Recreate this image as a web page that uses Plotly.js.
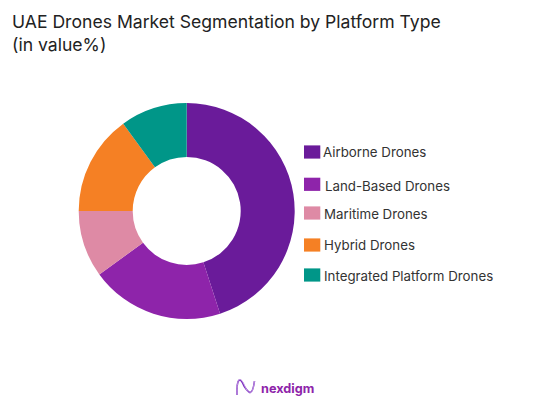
<!DOCTYPE html>
<html>
<head>
<meta charset="utf-8">
<script src="https://cdn.plot.ly/plotly-3.0.1.min.js"></script>
<style>html,body{margin:0;padding:0;background:#fff}#c{width:540px;height:402px}</style>
</head>
<body>
<div id="c"></div>
<script>
var categories = ["Airborne Drones","Land-Based Drones","Maritime Drones","Hybrid Drones","Integrated Platform Drones"];
var shareValues = [45,20,10,15,10];
var sliceColors = ["#6A1B9A","#8E24AA","#DE8AA5","#F58024","#009688"];
var legendSwatchY = [152,184.3,213,245,275];
var legendTextY = [152,185.5,214,245,276];
var legendTextX = [321,323,322,322,322];
var titleLines = ["UAE Drones Market Segmentation by Platform Type","(in value%)"];
var brandName = "nexdigm";
var W = 540, H = 402, FONT = "Inter, 'Open Sans', sans-serif";
function px(x){return x/W;}
function py(y){return 1-y/H;}
function logoPath(a,b){
  return "M "+px(237)+" "+py(395)+" C "+px(236.5)+" "+py(378)+" "+px(240)+" "+py(376)+" "+px(244)+" "+py(a)+
         " C "+px(248)+" "+py(b)+" "+px(252)+" "+py(399)+" "+px(254.5)+" "+py(381);
}

var annotations = [{
  text: titleLines.join("<br>"), xref:"paper", yref:"paper",
  x: px(10), y: py(9), xanchor:"left", yanchor:"top", align:"left", showarrow:false,
  font:{family:FONT,size:17.6,color:"#222222"}
},{
  text: "<b>"+brandName+"</b>", xref:"paper", yref:"paper",
  x: px(258.5), y: py(388), xanchor:"left", yanchor:"middle", showarrow:false,
  font:{family:FONT,size:12.7,color:"#8E24AA"}
}];
var shapes = [
  {type:"path", xref:"paper", yref:"paper", line:{color:"#7B2FBE",width:1.6}, path:logoPath(386,392)},
  {type:"path", xref:"paper", yref:"paper", line:{color:"#C9A2E8",width:0.9}, path:logoPath(384,394)}
];
categories.forEach(function(name,i){
  annotations.push({
    text:name, xref:"paper", yref:"paper", x:px(legendTextX[i]), y:py(legendTextY[i]),
    xanchor:"left", yanchor:"middle", showarrow:false,
    font:{family:FONT,size:13.3,color:"#333333"}
  });
  shapes.push({
    type:"rect", xref:"paper", yref:"paper", line:{width:0}, fillcolor:sliceColors[i],
    x0:px(304), x1:px(320.3), y0:py(legendSwatchY[i]-6.6), y1:py(legendSwatchY[i]+6.6)
  });
});

Plotly.newPlot("c",[{
  type:"pie", labels:categories, values:shareValues, hole:0.5, sort:false,
  direction:"clockwise", rotation:0, textinfo:"none", hoverinfo:"label+percent",
  marker:{colors:sliceColors,line:{width:0}},
  domain:{x:[px(78.7),px(294.7)],y:[py(319),py(103)]}
}],{
  width:W,height:H,margin:{l:0,r:0,t:0,b:0},showlegend:false,
  paper_bgcolor:"#fff",annotations:annotations,shapes:shapes
},{displayModeBar:false,staticPlot:true});
</script>
</body>
</html>
